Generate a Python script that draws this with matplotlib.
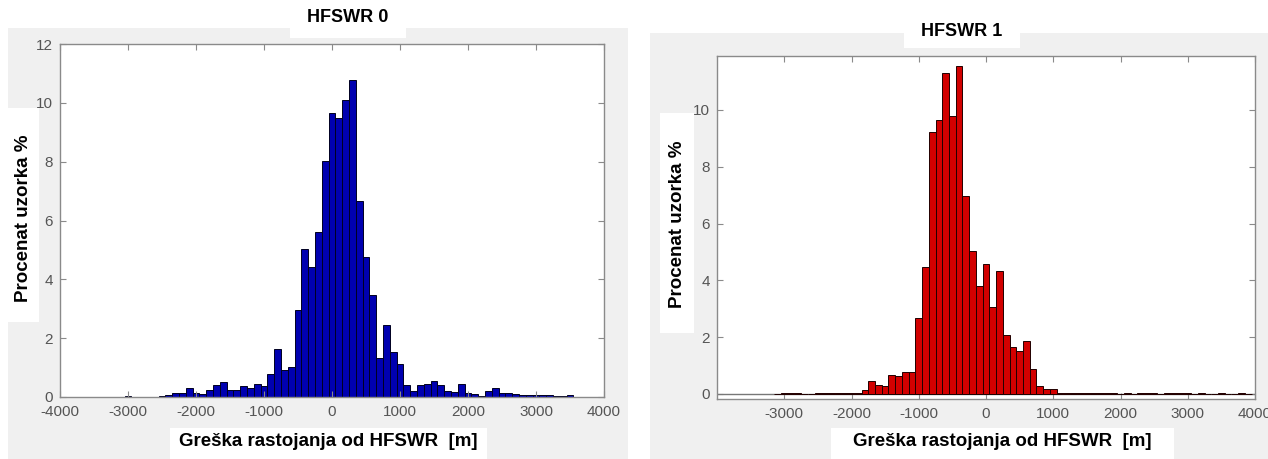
import numpy as np
import matplotlib
matplotlib.use("Agg")
import matplotlib.pyplot as plt
from matplotlib.patches import Rectangle

plt.rcParams['font.family'] = ['Liberation Sans', 'DejaVu Sans']
plt.rcParams['axes.unicode_minus'] = False

# ---------------- data ----------------
bin_width = 100
hf0_first_center = -3300
hf0_values = [0.01, 0.01, 0.01, 0.02, 0.01, 0.01, 0.01, 0.01,
              0.03, 0.06, 0.15, 0.14, 0.31, 0.15, 0.09, 0.25, 0.42, 0.52,
              0.23, 0.25, 0.37, 0.32, 0.45, 0.36,
              0.77, 1.64, 0.91, 1.02, 2.97, 5.03, 4.42, 5.62, 8.02, 9.65,
              9.50, 10.08, 10.77, 6.66, 4.76, 3.46, 1.31, 2.44, 1.52, 1.12,
              0.42, 0.20, 0.42, 0.45, 0.54, 0.42, 0.20, 0.17, 0.45, 0.15,
              0.11, 0.03, 0.20, 0.31, 0.15, 0.14, 0.09, 0.06, 0.08, 0.07,
              0.06, 0.06, 0.05, 0.05, 0.08]

hf1_first_center = -3100
hf1_values = [0.01, 0.03, 0.04, 0.02, 0.01, 0.01, 0.02, 0.02, 0.02, 0.02, 0.02, 0.02, 0.03,
              0.15, 0.47, 0.30, 0.27, 0.68, 0.62, 0.77, 0.77, 2.68, 4.46,
              9.22, 9.66, 11.30, 9.79, 11.55, 6.98, 5.02, 3.81, 4.58, 3.06,
              4.34, 2.09, 1.65, 1.50, 1.85, 0.86, 0.29, 0.18, 0.18,
              0.02, 0.02, 0.02, 0.02, 0.02, 0.02, 0.03, 0.02, 0.02, 0.01,
              0.02, 0.01, 0.02, 0.02, 0.02, 0.01, 0.02, 0.02, 0.02, 0.02,
              0.01, 0.02, 0.01, 0.01, 0.02, 0.01, 0.01, 0.02, 0.01]

titles = ["HFSWR 0", "HFSWR 1"]
xlabel = "Greška rastojanja od HFSWR  [m]"
ylabel = "Procenat uzorka %"
hf0_xticks = [-4000, -3000, -2000, -1000, 0, 1000, 2000, 3000, 4000]
hf0_yticks = [0, 2, 4, 6, 8, 10, 12]
hf1_xticks = [-3000, -2000, -1000, 0, 1000, 2000, 3000, 4000]
hf1_yticks = [0, 2, 4, 6, 8, 10]

# ---------------- layout helpers ----------------
W, H = 1268, 459
fig = plt.figure(figsize=(W / 100, H / 100), dpi=100, facecolor="white")


def fx(x):
    return x / W


def fy(y):
    return 1 - y / H


def rect(x0, y0, x1, y1, color, z):
    r = Rectangle((fx(x0), fy(y1)), fx(x1) - fx(x0), fy(y0) - fy(y1),
                  transform=fig.transFigure, facecolor=color, edgecolor="none", zorder=z)
    fig.patches.append(r)


def axes_px(x0, y0, x1, y1):
    return fig.add_axes([fx(x0), fy(y1), fx(x1) - fx(x0), fy(y0) - fy(y1)])


GRAY = "#f0f0f0"
# panel backgrounds
rect(8, 28, 628, 459, GRAY, -2)
rect(650, 33, 1268, 459, GRAY, -2)
# white label boxes
rect(290, 0, 406, 38, "white", -1)
rect(8, 108, 39, 322, "white", -1)
rect(170, 428, 487, 459, "white", -1)
rect(904, 18, 1020, 48, "white", -1)
rect(660, 113, 694, 333, "white", -1)
rect(831, 428, 1174, 459, "white", -1)

SPINE = "#8a8a8a"
TICKLAB = "#555555"


def style(ax):
    for s in ax.spines.values():
        s.set_color(SPINE)
        s.set_linewidth(1.0)
    ax.tick_params(direction="in", length=4, width=0.8, color=SPINE,
                   labelcolor=TICKLAB, labelsize=11, top=True, right=True)
    ax.tick_params(axis="x", pad=6)
    ax.tick_params(axis="y", pad=5)
    ax.set_facecolor("white")


# ---------------- left chart ----------------
ax0 = axes_px(60, 44, 604, 397)
c0 = hf0_first_center + bin_width * np.arange(len(hf0_values))
ax0.bar(c0, hf0_values, width=bin_width, color="#0000b0", edgecolor="#000020",
        linewidth=0.7)
ax0.set_xlim(-4000, 4000)
ax0.set_ylim(0, 12)
ax0.set_xticks(hf0_xticks)
ax0.set_yticks(hf0_yticks)
style(ax0)

# ---------------- right chart ----------------
ax1 = axes_px(717, 56, 1255, 399)
c1 = hf1_first_center + bin_width * np.arange(len(hf1_values))
ax1.bar(c1, hf1_values, width=bin_width, color="#d20000", edgecolor="#200000",
        linewidth=0.7, zorder=3)
ax1.axhline(0, color="#777777", linewidth=1.0, zorder=2)
ax1.set_xlim(-4000, 4000)
ax1.set_ylim(-0.18, 11.9)
ax1.set_xticks(hf1_xticks)
ax1.set_yticks(hf1_yticks)
style(ax1)
for lab in ax1.get_xticklabels():
    lab.set_clip_on(False)

# ---------------- texts ----------------
fig.text(fx(348), fy(18), titles[0], ha="center", va="center",
         fontsize=13, fontweight="bold", color="black")
fig.text(fx(962), fy(32), titles[1], ha="center", va="center",
         fontsize=13, fontweight="bold", color="black")
fig.text(fx(328), fy(441), xlabel, ha="center", va="center",
         fontsize=13.5, fontweight="bold", color="black")
fig.text(fx(1002), fy(442), xlabel, ha="center", va="center",
         fontsize=13.5, fontweight="bold", color="black")
fig.text(fx(23), fy(218), ylabel, ha="center", va="center", rotation=90,
         fontsize=13.5, fontweight="bold", color="black")
fig.text(fx(677), fy(224), ylabel, ha="center", va="center", rotation=90,
         fontsize=13.5, fontweight="bold", color="black")

fig.savefig("out.png", dpi=100, facecolor="white")
